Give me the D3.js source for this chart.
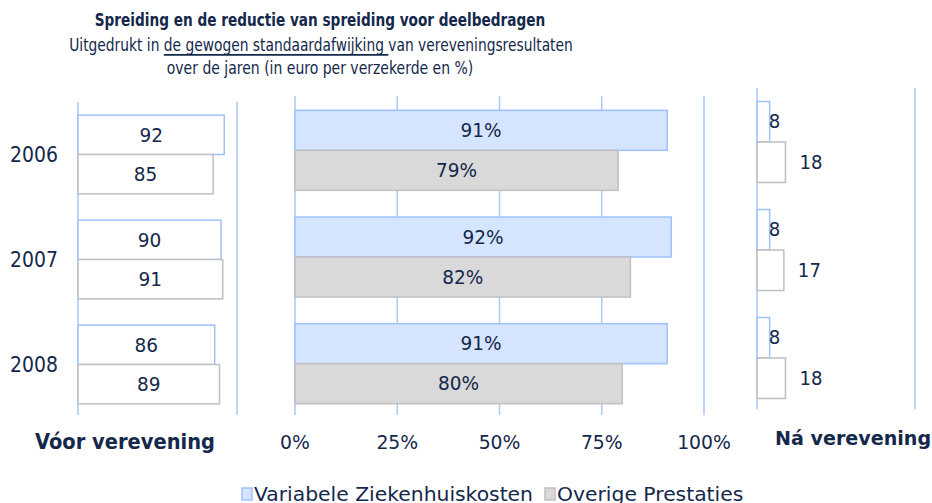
<!DOCTYPE html>
<html>
<head>
    <meta charset="utf-8">
    <title>Spreiding en de reductie van spreiding</title>
    <script src="https://d3js.org/d3.v7.min.js"></script>
    <style>
        body { margin: 0; background: #fff; }
        text { font-family: "DejaVu Sans", Verdana, sans-serif; fill: #14284b; }
        .grid { stroke: #a9c9fb; stroke-width: 1.5px; }
    </style>
</head>
<body>
    <svg width="932" height="503"></svg>
    <script>
        // data
        const years = ["2006", "2007", "2008"];
        const series = ["Variabele Ziekenhuiskosten", "Overige Prestaties"];
        const voorVZK = [92, 90, 86];
        const voorOP = [85, 91, 89];
        const reductieVZK = [0.91, 0.92, 0.91];
        const reductieOP = [0.79, 0.82, 0.80];
        const naVZK = [8, 8, 8];
        const naOP = [18, 17, 18];
        const pctTicks = [0, 0.25, 0.5, 0.75, 1];

        const svg = d3.select("svg");

        const colors = {
            fill: {"Variabele Ziekenhuiskosten": "#d5e5ff", "Overige Prestaties": "#d9d9d9"},
            stroke: {"Variabele Ziekenhuiskosten": "#9dc2fb", "Overige Prestaties": "#bfbfbf"}
        };

        // text helper, sx squeezes the glyphs horizontally like the original
        function label(g, x, y, txt, size, anchor, weight, sx) {
            return g.append("text")
                .attr("transform", `translate(${x},${y}) scale(${sx || 1},1)`)
                .attr("text-anchor", anchor || "middle")
                .attr("dominant-baseline", "central")
                .style("font-size", size + "px")
                .style("font-weight", weight || "normal")
                .text(txt);
        }

        function rows(a, b) {
            return years.map((y, i) => ({year: y, vals: [
                {s: series[0], v: a[i]}, {s: series[1], v: b[i]}]}));
        }

        function panel(opts) {
            const g = svg.append("g");
            const x = d3.scaleLinear().domain(opts.domain).range(opts.xr);
            const y = d3.scaleBand().domain(years).range(opts.yr)
                .paddingInner(0.25).paddingOuter(0.125);
            const ys = d3.scaleBand().domain(series).range([0, y.bandwidth()]);

            g.selectAll(".grid").data(opts.ticks).join("line")
                .attr("class", "grid")
                .attr("x1", d => x(d)).attr("x2", d => x(d))
                .attr("y1", opts.lineY[0]).attr("y2", opts.lineY[1]);

            const grp = g.selectAll(".yr").data(rows(opts.a, opts.b)).join("g")
                .attr("transform", d => `translate(0,${y(d.year)})`);

            grp.selectAll("rect").data(d => d.vals).join("rect")
                .attr("x", x(0))
                .attr("y", d => ys(d.s))
                .attr("width", d => x(d.v) - x(0))
                .attr("height", ys.bandwidth())
                .attr("fill", d => opts.filled ? colors.fill[d.s] : "#fff")
                .attr("stroke", d => colors.stroke[d.s])
                .attr("stroke-width", 1.5);

            grp.each(function(d) {
                const gg = d3.select(this);
                d.vals.forEach(v => {
                    const cy = ys(v.s) + ys.bandwidth() / 2;
                    if (opts.outside) {
                        const off = v.s === series[0] ? -1 : 14;
                        label(gg, x(v.v) + off, cy, opts.fmt(v.v), 19.5, "start", "normal", 0.93);
                    } else {
                        label(gg, (x(0) + x(v.v)) / 2, cy, opts.fmt(v.v), 20, "middle", "normal", 0.925);
                    }
                });
            });
            return {g, x, y};
        }

        const left = panel({domain: [0, 100], xr: [78, 237], yr: [102, 417], lineY: [102, 415],
            ticks: [0, 100], a: voorVZK, b: voorOP, filled: false, fmt: d => d});
        panel({domain: [0, 1], xr: [295, 704], yr: [97, 417], lineY: [96, 415],
            ticks: pctTicks, a: reductieVZK, b: reductieOP, filled: true, fmt: d3.format(".0%")});
        panel({domain: [0, 100], xr: [757, 915], yr: [88, 412], lineY: [88, 409],
            ticks: [0, 100], a: naVZK, b: naOP, filled: false, outside: true, fmt: d => d});

        // year labels
        years.forEach(yr => {
            label(svg, 10, left.y(yr) + left.y.bandwidth() / 2 + 1, yr, 20.5, "start", "normal", 0.92);
        });

        // bottom axis labels
        const xm = d3.scaleLinear().domain([0, 1]).range([295, 704]);
        pctTicks.forEach(t => label(svg, xm(t), 442, d3.format(".0%")(t), 20, "middle", "normal", 0.94));
        label(svg, 35, 442, "Vóor verevening", 20.5, "start", "bold", 0.95);
        label(svg, 775, 438, "Ná verevening", 20, "start", "bold", 0.955);

        // title
        label(svg, 320, 20, "Spreiding en de reductie van spreiding voor deelbedragen", 17.5, "middle", "bold", 0.78);
        const sub = svg.append("text")
            .attr("transform", "translate(321,44) scale(0.79,1)")
            .attr("text-anchor", "middle")
            .attr("dominant-baseline", "central")
            .style("font-size", "17.5px");
        sub.append("tspan").text("Uitgedrukt in ");
        sub.append("tspan").style("text-decoration", "underline").text("de gewogen standaardafwijking ");
        sub.append("tspan").text("van vereveningsresultaten");
        label(svg, 320, 68, "over de jaren (in euro per verzekerde en %)", 17.5, "middle", "normal", 0.8);

        // legend
        const lg = svg.append("g").attr("transform", "translate(0,494)");
        const legX = [242, 545];
        series.forEach((s, i) => {
            lg.append("rect").attr("x", legX[i]).attr("y", -6).attr("width", 10).attr("height", 12)
                .attr("fill", colors.fill[s]).attr("stroke", colors.stroke[s]).attr("stroke-width", 1.5);
            label(lg, legX[i] + 12, 1, s, 19, "start", "normal", 1.07);
        });
    </script>
</body>
</html>
